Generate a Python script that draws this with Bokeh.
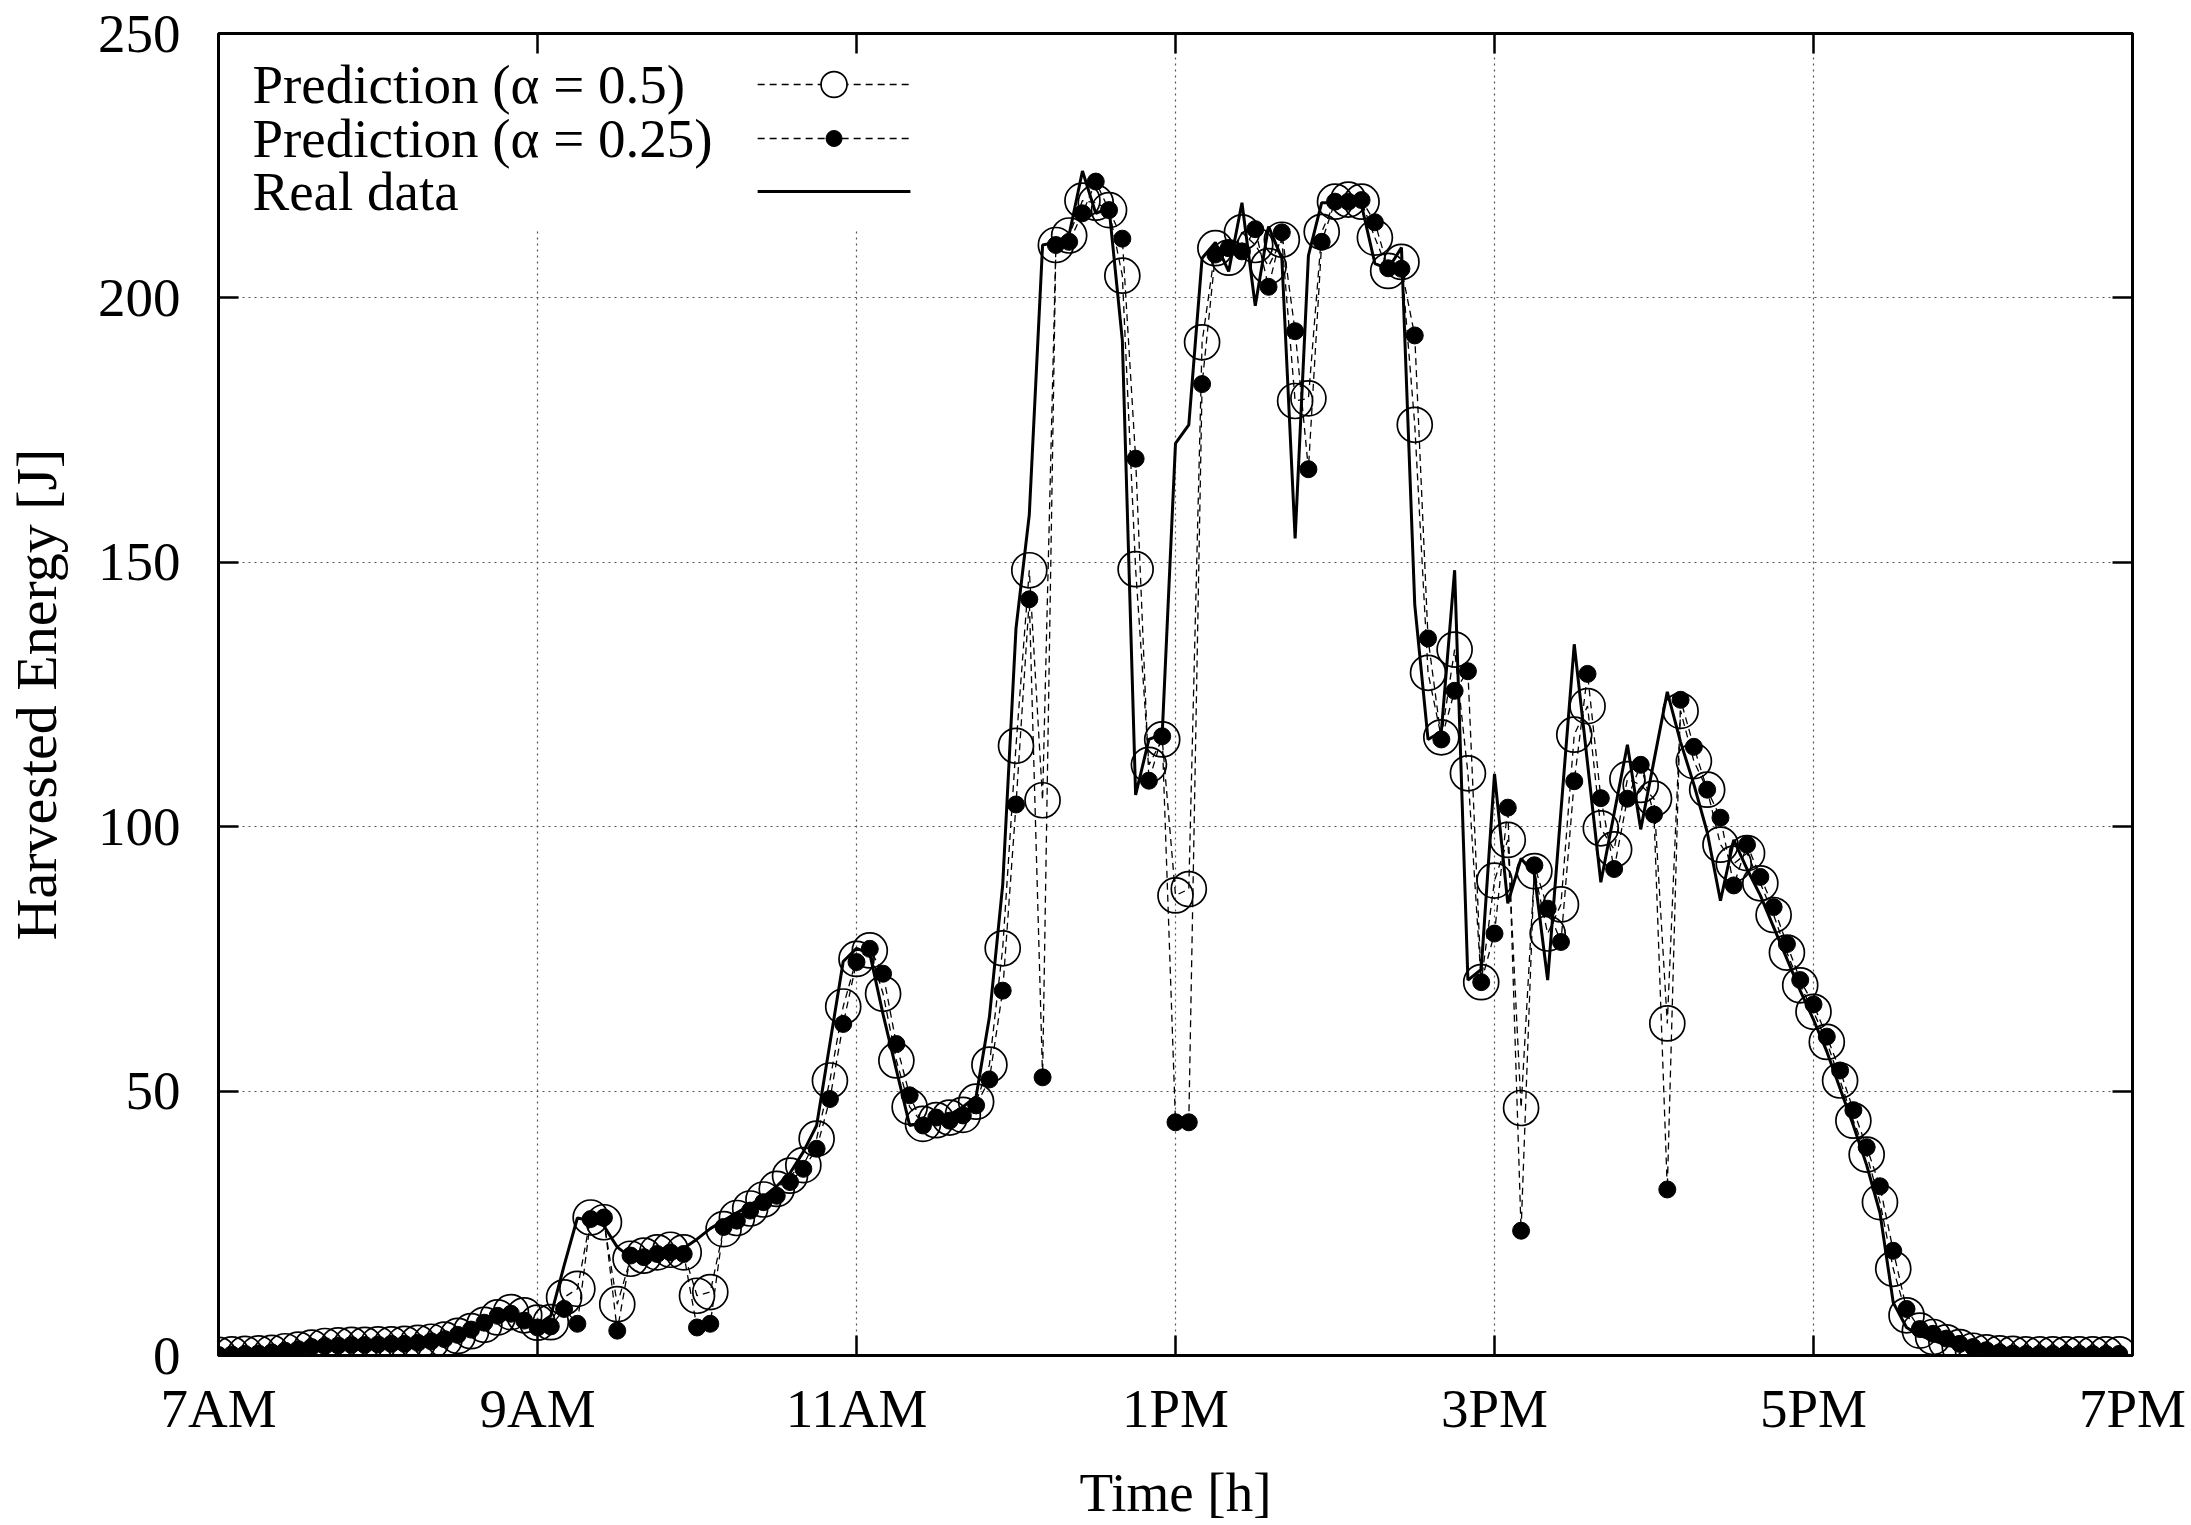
from bokeh.plotting import figure
from bokeh.models import (Range1d, FixedTicker, LinearAxis, BoxAnnotation,
                          CustomLabelingPolicy)
from bokeh.core.properties import value
from bokeh.embed import file_html
from bokeh.resources import INLINE

FONT = "Liberation Serif"

# 5-minute samples from 7:00 to 18:55
hours = [7 + i / 12 for i in range(144)]

real_data = [0.2, 0.3, 0.4, 0.5, 0.7, 1.0, 1.4, 1.7, 1.9, 2.0,
             2.0, 2.1, 2.1, 2.2, 2.3, 2.5, 2.8, 3.3, 4.2, 5.2,
             6.5, 7.8, 8.3, 7.0, 5.8, 7.5, 17.0, 26.0, 25.5, 24.5,
             20.5, 18.6, 18.9, 19.3, 19.7, 20.3, 22.0, 24.0, 25.5, 27.0,
             28.5, 30.0, 32.0, 34.5, 38.5, 43.5, 59.0, 74.5, 77.0, 76.0,
             64.5, 54.0, 43.5, 44.0, 44.5, 45.5, 47.0, 49.0, 64.0, 89.0,
             137.5, 159.0, 210.0, 210.5, 212.0, 224.0, 216.0, 217.0, 192.0, 106.0,
             116.5, 117.5, 172.5, 176.0, 207.5, 210.5, 205.0, 218.0, 198.5, 213.5,
             207.5, 154.5, 208.0, 218.0, 218.0, 218.0, 217.5, 206.5, 205.5, 209.5,
             142.0, 116.5, 118.0, 148.5, 71.0, 73.0, 110.0, 85.5, 94.0, 91.0,
             71.0, 103.0, 134.5, 112.0, 89.5, 102.5, 115.5, 99.5, 112.5, 125.5,
             116.0, 108.0, 99.0, 86.0, 97.5, 92.0, 87.0, 81.0, 75.0, 69.0,
             63.5, 57.5, 50.5, 43.5, 36.0, 27.0, 10.0, 5.3, 3.8, 2.8,
             2.0, 1.4, 1.0, 0.7, 0.5, 0.4, 0.3, 0.3, 0.2, 0.2,
             0.2, 0.2, 0.2, 0.2]

pred_a050 = [0.1, 0.2, 0.3, 0.4, 0.5, 0.8, 1.1, 1.5, 1.8, 1.9,
             2.0, 2.0, 2.1, 2.1, 2.2, 2.4, 2.6, 3.0, 3.7, 4.6,
             5.8, 7.2, 8.2, 7.6, 6.2, 6.3, 11.0, 12.6, 26.1, 25.2,
             9.7, 18.3, 18.9, 19.5, 20.0, 19.5, 11.3, 12.0, 23.9, 26.0,
             27.8, 29.5, 31.5, 34.0, 36.0, 41.0, 52.0, 66.0, 75.0, 76.6,
             68.4, 55.8, 47.0, 43.8, 44.5, 45.0, 45.5, 48.0, 55.0, 77.0,
             115.3, 148.5, 105.0, 210.0, 211.8, 218.4, 218.0, 216.6, 204.2, 148.7,
             111.7, 116.5, 87.0, 88.2, 191.6, 209.4, 207.6, 212.4, 210.0, 206.0,
             211.0, 180.5, 181.0, 212.5, 218.2, 218.6, 218.2, 211.4, 205.1, 206.8,
             176.0, 129.1, 116.9, 133.5, 110.1, 70.6, 89.8, 97.5, 46.8, 91.6,
             79.8, 85.3, 117.4, 122.8, 99.7, 95.7, 109.0, 107.9, 105.3, 62.8,
             121.9, 112.4, 107.0, 96.6, 93.0, 95.0, 89.3, 83.3, 76.2, 70.0,
             65.0, 59.3, 52.0, 44.4, 38.0, 29.0, 16.4, 7.6, 4.7, 3.5,
             2.5, 1.6, 0.9, 0.6, 0.4, 0.3, 0.2, 0.2, 0.2, 0.2,
             0.2, 0.2, 0.2, 0.2]

pred_a025 = [0.1, 0.2, 0.3, 0.4, 0.6, 0.9, 1.2, 1.6, 1.8, 1.9,
             2.0, 2.0, 2.1, 2.2, 2.2, 2.4, 2.7, 3.1, 3.9, 4.9,
             6.2, 7.5, 7.9, 6.6, 5.3, 5.5, 8.8, 6.0, 25.8, 26.1,
             4.7, 18.9, 18.6, 19.2, 19.5, 19.2, 5.3, 6.0, 24.3, 25.5,
             27.4, 29.0, 30.2, 32.8, 35.3, 39.1, 48.5, 62.7, 74.4, 76.9,
             72.2, 58.9, 49.2, 43.5, 45.0, 44.4, 45.4, 47.3, 52.2, 69.0,
             104.2, 143.0, 52.6, 210.0, 210.6, 216.0, 222.0, 216.6, 211.2, 169.6,
             108.7, 117.1, 44.1, 44.1, 183.7, 208.2, 209.4, 208.8, 213.0, 202.1,
             212.4, 193.7, 167.6, 210.6, 218.2, 218.2, 218.5, 214.3, 205.6, 205.5,
             192.9, 135.6, 116.5, 125.7, 129.4, 70.6, 79.8, 103.6, 23.6, 92.7,
             84.5, 78.2, 108.6, 128.9, 105.4, 92.0, 105.3, 111.7, 102.3, 31.4,
             124.0, 115.1, 107.0, 101.7, 88.9, 96.6, 90.5, 84.8, 77.8, 71.0,
             66.4, 60.3, 53.9, 46.4, 39.4, 32.0, 19.8, 8.8, 5.0, 4.1,
             3.2, 2.2, 1.6, 1.0, 0.6, 0.4, 0.3, 0.3, 0.3, 0.3,
             0.3, 0.3, 0.3, 0.3]

x_ticks = [7, 9, 11, 13, 15, 17, 19]
x_tick_labels = ["7AM", "9AM", "11AM", "1PM", "3PM", "5PM", "7PM"]
y_ticks = [0, 50, 100, 150, 200, 250]

series_labels = ["Prediction (\u03b1 = 0.5)", "Prediction (\u03b1 = 0.25)", "Real data"]

X0, X1, Y0, Y1 = 7, 19, 0, 250

# frame geometry (pixels) used to place the legend block
W, H = 2191, 1525
FL, FR, FT, FB = 215, 2132, 33, 1355
PX_X = (FR - FL) / (X1 - X0)
PX_Y = (FB - FT) / (Y1 - Y0)


def dx(px):
    return X0 + (px - FL) / PX_X


def dy(py):
    return Y0 + (FB - py) / PX_Y


p = figure(width=W, height=H, output_backend="svg", toolbar_location=None,
           x_range=Range1d(X0, X1), y_range=Range1d(Y0, Y1),
           min_border_left=FL, min_border_right=W - FR, min_border_top=FT,
           min_border_bottom=H - FB)
p.background_fill_color = "white"
p.border_fill_color = "white"
p.outline_line_color = "black"
p.outline_line_width = 3

# grid
p.xgrid.ticker = FixedTicker(ticks=x_ticks)
p.ygrid.ticker = FixedTicker(ticks=y_ticks)
p.grid.grid_line_color = "#555555"
p.grid.grid_line_dash = "2 4"
p.grid.grid_line_width = 1.2

no_labels = CustomLabelingPolicy(code="return new Set()")


def style_axis(ax, labels=True):
    ax.axis_line_color = None
    ax.major_tick_in = 20
    ax.major_tick_out = 0
    ax.major_tick_line_width = 2.5
    ax.major_tick_line_color = "black"
    ax.minor_tick_line_color = None
    ax.major_label_text_font = FONT
    ax.major_label_text_color = "black"
    if labels:
        ax.major_label_text_font_size = "55px"
    else:
        # mirrored tick marks only: labels filtered out, no space reserved
        ax.major_label_text_font_size = "1px"
        ax.major_label_standoff = 0
        ax.major_label_policy = no_labels


xa = p.xaxis[0]
xa.ticker = FixedTicker(ticks=x_ticks)
xa.major_label_overrides = {t: l for t, l in zip(x_ticks, x_tick_labels)}
style_axis(xa)
xa.major_label_standoff = 22
xa.axis_label = "Time [h]"
xa.axis_label_text_font = FONT
xa.axis_label_text_font_size = "55px"
xa.axis_label_text_font_style = "normal"
xa.axis_label_text_color = "black"
xa.axis_label_standoff = 20

ya = p.yaxis[0]
ya.ticker = FixedTicker(ticks=y_ticks)
style_axis(ya)
ya.major_label_standoff = 38
ya.axis_label = "Harvested Energy [J]"
ya.axis_label_text_font = FONT
ya.axis_label_text_font_size = "58px"
ya.axis_label_text_font_style = "normal"
ya.axis_label_text_color = "black"
ya.axis_label_standoff = 26

top_ax = LinearAxis(ticker=FixedTicker(ticks=x_ticks))
style_axis(top_ax, labels=False)
p.add_layout(top_ax, "above")
right_ax = LinearAxis(ticker=FixedTicker(ticks=y_ticks))
style_axis(right_ax, labels=False)
p.add_layout(right_ax, "right")

# white legend background (hides the grid behind the key)
legend_box = BoxAnnotation(left=dx(FL + 2), right=dx(920), top=dy(FT + 2), bottom=dy(230),
                           fill_color="white", fill_alpha=1, line_color=None,
                           level="underlay")
p.add_layout(legend_box)

DASH = "7 5"

# data series
p.line(hours, pred_a050, line_color="black", line_width=1.3, line_dash=DASH)
p.scatter(hours, pred_a050, marker="circle", size=35, fill_color=None,
          line_color="black", line_width=1.7)
p.line(hours, pred_a025, line_color="black", line_width=1.3, line_dash=DASH)
p.scatter(hours, pred_a025, marker="circle", size=17, fill_color="black",
          line_color="black", line_width=1)
p.line(hours, real_data, line_color="black", line_width=3)

# legend key (text left, sample right, as in the original)
row_py = [84, 138, 191]
key_x0, key_x1 = dx(755), dx(908)
key_xc = (key_x0 + key_x1) / 2
p.text(x=[dx(249)] * 3, y=[dy(r) for r in row_py], text=series_labels,
       text_font=value(FONT), text_font_size="55px", text_color="black",
       text_align="left", text_baseline="middle")
p.line([key_x0, key_x1], [dy(row_py[0])] * 2, line_color="black", line_width=1.3,
       line_dash=DASH)
p.scatter([key_xc], [dy(row_py[0])], marker="circle", size=26, fill_color="white",
          line_color="black", line_width=1.7)
p.line([key_x0, key_x1], [dy(row_py[1])] * 2, line_color="black", line_width=1.3,
       line_dash=DASH)
p.scatter([key_xc], [dy(row_py[1])], marker="circle", size=16, fill_color="black",
          line_color="black")
p.line([key_x0, key_x1], [dy(row_py[2])] * 2, line_color="black", line_width=3)

open("out.html", "w").write(file_html(p, INLINE))
